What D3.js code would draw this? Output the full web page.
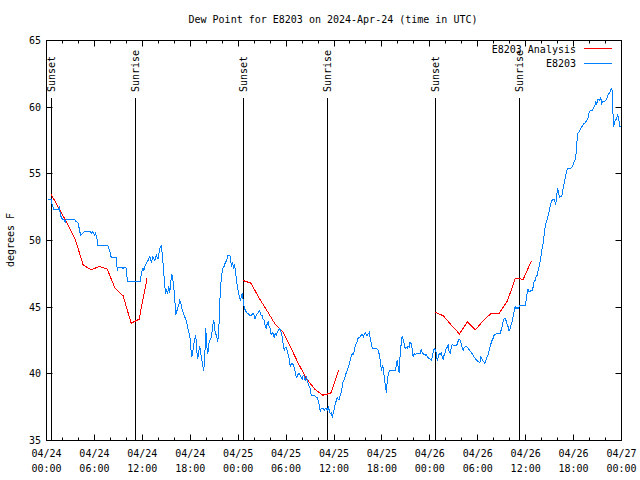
<!DOCTYPE html>
<html><head><meta charset="utf-8">
<script src="https://cdn.jsdelivr.net/npm/d3@7"></script>
<style>
body{margin:0;background:#fff}
svg{display:block}
text{font-family:"DejaVu Sans Mono","Liberation Mono",monospace;font-size:10px;fill:#000}
</style>
</head><body>
<svg id="chart" width="640" height="480"></svg>
<script>
// ---- data (hours since 2024-04-24 00:00 UTC, degrees F) ----
const obsHours = [0.16,0.59,0.66,0.92,1.51,1.63,1.72,2.04,2.17,2.35,2.47,3.51,3.73,3.93,4.10,4.26,4.55,4.77,5.39,5.61,5.81,6.02,6.15,6.36,6.44,7.69,7.90,8.12,8.74,8.87,8.94,9.37,9.57,9.78,10.0,10.12,10.20,11.75,11.88,12.08,12.21,12.29,12.51,12.71,12.92,13.13,13.33,13.55,13.76,13.96,14.17,14.39,14.51,14.68,14.80,14.93,15.05,15.18,15.30,15.43,15.55,15.68,15.81,15.93,16.06,16.18,16.31,16.43,16.56,16.68,16.81,16.97,17.22,17.44,17.65,17.81,
17.94,18.06,18.19,18.31,18.44,18.56,18.69,18.81,18.94,19.07,19.19,19.32,19.44,19.57,19.69,19.82,19.94,20.07,20.20,20.32,20.45,20.57,20.70,20.82,20.95,21.07,21.20,21.32,21.45,21.58,21.70,21.83,21.95,22.08,22.20,22.33,22.45,22.58,22.70,22.96,23.04,23.17,23.29,23.42,23.54,23.67,23.80,23.92,24.05,24.17,24.30,24.42,24.55,24.67,24.80,24.92,25.05,25.25,25.46,25.68,25.88,26.00,26.13,26.25,26.38,26.50,26.63,26.76,26.88,27.01,27.13,27.26,27.38,27.51,27.63,27.76,27.88,28.01,28.14,28.26,28.39,28.51,28.64,28.76,28.89,29.01,29.14,29.26,29.39,29.52,29.64,29.77,29.89,30.02,30.14,30.27,30.39,30.52,30.64,30.77,30.90,31.02,31.15,31.27,31.40,31.52,31.65,31.77,31.90,32.02,32.15,32.27,32.40,32.53,32.65,32.78,32.90,33.03,33.15,33.53,33.78,33.91,34.03,34.16,34.28,34.41,34.66,34.78,34.91,35.04,35.16,35.29,35.41,35.54,35.66,35.79,35.91,36.04,36.16,36.29,36.41,36.54,
36.67,36.79,36.92,37.04,37.17,37.29,37.42,37.55,37.67,37.80,37.92,38.05,38.17,38.30,38.42,38.55,38.67,38.80,38.92,39.05,39.17,39.30,39.43,39.55,39.68,39.80,39.93,40.05,40.18,40.30,40.43,40.55,40.68,40.80,41.36,41.56,41.68,41.81,41.93,42.06,42.19,42.31,42.44,42.56,42.69,42.81,42.94,43.65,43.78,43.90,44.03,44.15,44.28,44.41,44.53,44.66,44.78,44.91,45.03,45.16,45.28,45.41,45.53,45.66,45.79,45.91,46.04,46.16,46.29,46.54,46.79,46.91,47.04,47.17,47.42,47.54,47.67,47.79,48.04,48.17,48.29,48.42,48.54,48.67,48.80,48.92,49.05,49.17,49.30,49.43,49.55,49.68,49.80,49.93,50.05,50.18,50.30,50.43,50.56,50.68,50.81,51.18,51.43,51.56,51.68,51.81,51.93,52.06,52.19,52.31,52.56,52.81,53.06,53.31,53.56,53.81,54.06,
54.27,54.39,54.52,54.64,54.77,54.89,55.02,55.14,55.27,55.39,55.52,55.65,55.78,55.90,56.03,56.15,56.28,56.78,56.91,57.03,57.16,57.28,57.41,57.54,57.66,57.79,57.91,58.04,58.17,58.29,58.42,58.54,58.67,58.80,58.92,59.05,59.17,59.30,59.92,60.05,60.17,60.30,60.42,60.68,60.80,60.93,61.05,61.18,61.30,61.43,61.55,61.68,
61.75,61.88,62.00,62.13,62.26,62.38,62.51,62.63,62.76,62.88,63.01,63.13,63.26,63.38,63.51,63.64,63.76,63.89,64.01,64.14,64.26,64.51,64.64,64.76,64.89,65.01,65.14,65.26,65.60,65.73,65.85,65.98,66.10,66.23,66.36,66.44,66.52,66.64,66.77,66.89,67.02,67.14,67.27,67.40,67.52,67.65,67.77,67.90,68.02,68.28,68.40,68.53,68.65,68.78,68.90,69.03,69.15,69.28,69.41,69.53,69.66,69.91,70.03,70.16,70.28,70.41,70.53,70.66,70.79,70.87,70.95,71.03,71.12,71.24,71.37,71.49,71.62,71.75,71.83];
const obsValues = [53.05,53.05,52.8,52.3,52.3,52.6,51.9,51.55,51.6,51.4,51.6,51.6,51.4,51.35,50.9,50.4,50.55,50.7,50.7,50.55,50.65,50.4,50.55,50.0,49.6,49.6,49.25,48.7,48.7,47.75,48.0,48.0,47.9,48.0,47.9,47.0,46.9,46.9,47.6,47.9,47.75,48.0,48.3,48.5,48.8,48.4,48.8,48.5,48.9,48.6,49.4,49.6,48.9,47.6,46.6,46.0,46.35,46.0,46.6,46.05,46.85,47.5,47.1,46.6,45.6,44.4,44.65,45.0,45.1,45.5,45.3,44.85,44.4,44.1,43.6,43.1,
42.9,42.0,41.25,41.6,42.25,42.6,42.9,41.75,41.1,41.75,42.05,41.5,41.1,40.6,40.25,41.25,43.4,42.1,41.5,42.25,42.5,42.6,43.0,43.6,44.05,43.25,43.0,42.75,42.4,43.4,45.4,46.75,47.5,47.9,48.0,48.25,48.4,48.55,48.9,48.9,48.5,48.1,48.3,48.0,48.25,47.6,47.0,46.5,46.0,45.75,45.5,45.9,46.0,45.25,44.9,44.75,44.6,44.5,44.4,44.4,44.55,44.4,44.1,44.4,44.5,44.6,44.75,44.6,44.4,44.4,44.1,44.0,43.6,43.45,43.75,43.9,43.5,43.4,42.9,43.1,43.0,42.75,43.0,42.9,43.1,43.25,43.4,43.3,43.1,42.75,42.25,41.75,42.0,42.0,41.75,41.4,41.1,40.5,40.75,40.75,40.7,40.5,40.1,39.75,39.8,40.0,40.05,39.9,39.75,39.6,39.9,39.8,39.5,39.75,39.6,39.25,39.0,38.9,38.4,38.4,38.25,38.25,38.0,37.6,37.2,37.4,37.4,37.25,37.4,37.4,37.25,37.5,37.25,37.0,37.05,36.8,37.1,37.4,37.75,38.0,38.2,38.05,
38.1,38.4,38.6,39.1,39.5,39.55,39.9,40.1,40.25,40.5,40.75,41.05,41.4,41.5,41.45,41.75,42.1,42.3,42.45,42.75,42.7,42.8,42.9,42.95,42.8,43.0,43.1,42.9,42.9,43.0,43.1,42.55,42.25,41.9,41.9,41.75,41.4,40.9,40.25,40.6,40.4,39.6,39.1,38.6,39.6,40.0,40.25,40.25,40.55,41.0,40.5,40.1,41.4,42.25,42.8,42.6,42.25,41.9,42.0,41.9,42.1,42.0,42.4,42.25,41.9,41.25,41.5,41.4,41.5,41.5,41.55,41.8,41.6,41.5,41.4,41.45,41.3,41.2,41.1,41.0,41.2,41.6,41.9,41.8,41.6,41.0,41.25,41.5,41.45,41.55,41.25,41.1,41.45,41.6,41.9,42.0,42.2,41.6,41.55,42.0,42.2,42.1,42.2,42.5,42.6,42.5,42.25,41.9,41.8,42.0,42.05,41.9,41.7,41.5,41.25,41.05,40.9,
40.875,41.25,41.125,41.0,40.875,40.8,41.0,41.25,41.375,41.625,42.0,42.25,42.5,42.625,42.875,42.95,43.0,43.0,43.25,43.5,43.875,44.125,44.2,44.0,43.75,43.55,43.25,43.375,43.7,43.875,44.25,44.625,45.05,44.875,45.0,44.875,45.0,45.125,45.125,45.5,46.0,46.375,46.125,46.25,46.25,46.5,46.875,47.0,47.25,47.375,47.75,48.0,
48.25,48.6,49.25,49.6,50.1,50.75,51.25,51.4,51.75,52.0,52.4,52.75,53.0,53.05,53.1,53.0,52.7,53.4,53.9,53.5,53.25,53.3,53.75,54.1,54.5,54.9,55.25,55.4,55.4,55.45,55.6,55.75,56.0,56.1,56.75,57.6,58.05,58.1,58.25,58.4,58.55,58.6,58.75,58.8,58.9,59.0,59.1,59.5,59.7,59.75,59.8,60.0,60.1,60.4,60.25,60.6,60.6,60.5,60.75,60.25,60.4,60.45,60.5,60.6,60.9,61.0,61.1,61.3,61.4,60.9,59.25,58.5,58.9,59.05,59.1,59.4,59.25,58.75,58.5];

const anaHours1  = [0.6,1.6,2.6,3.6,4.6,5.6,6.6,7.6,8.6,9.6,10.6,11.6,12.6];
const anaValues1 = [53.45,52.35,51.3,50.1,48.15,47.8,48.05,47.85,46.4,45.85,43.8,44.1,47.2];
const anaHours2  = [24.6,25.6,26.6,27.6,28.6,29.6,30.6,31.6,32.6,33.6,34.6,35.6,36.6];
const anaValues2 = [47.0,46.8,45.7,44.75,43.75,43.15,41.95,40.7,39.6,38.85,38.4,38.55,40.3];
const anaHours3  = [48.7,49.7,50.7,51.7,52.7,53.7,54.7,55.7,56.7,57.7,58.7,59.7,60.7];
const anaValues3 = [44.6,44.35,43.65,43.0,43.9,43.3,44.0,44.55,44.55,45.45,47.15,47.1,48.45];

const sunHours  = [0.66,11.16,24.62,35.16,48.71,59.24];
const sunLabels = ["Sunset","Sunrise","Sunset","Sunrise","Sunset","Sunrise"];

const xMajorHours = [0,6,12,18,24,30,36,42,48,54,60,66,72];
const xTickDates  = ["04/24","04/24","04/24","04/24","04/25","04/25","04/25","04/25","04/26","04/26","04/26","04/26","04/27"];
const xTickTimes  = ["00:00","06:00","12:00","18:00","00:00","06:00","12:00","18:00","00:00","06:00","12:00","18:00","00:00"];
const yTicks = [35,40,45,50,55,60,65];

const titleText = "Dew Point for E8203 on 2024-Apr-24 (time in UTC)";
const yLabelText = "degrees F";
const seriesNames = ["E8203 Analysis","E8203"];
const seriesColors = ["#ff0000","#0080ff"];

// ---- drawing ----
const svg = d3.select("#chart");
const L = 46.5, R = 621.5, T = 40.5, B = 440.5;
const x = d3.scaleLinear().domain([0,72]).range([L,R]);
const y = d3.scaleLinear().domain([35,65]).range([B,T]);

svg.append("rect").attr("width",640).attr("height",480).attr("fill","#fff");

svg.append("text").attr("x",333).attr("y",19).attr("text-anchor","middle")
  .attr("dominant-baseline","central").text(titleText);

svg.append("text").attr("transform","translate(10,240) rotate(-90)")
  .attr("text-anchor","middle").attr("dominant-baseline","central").text(yLabelText);

const g = svg.append("g");

yTicks.forEach(v=>{
  const yy = Math.round(y(v)-0.5)+0.5;
  g.append("line").attr("x1",L).attr("x2",L+6).attr("y1",yy).attr("y2",yy).attr("stroke","#000");
  g.append("line").attr("x1",R-6).attr("x2",R).attr("y1",yy).attr("y2",yy).attr("stroke","#000");
  g.append("text").attr("x",41).attr("y",y(v)).attr("text-anchor","end")
    .attr("dominant-baseline","central").text(v);
});

d3.range(0,73,2).forEach(h=>{
  const xx = Math.round(x(h)-0.5)+0.5;
  const len = (h%6===0)?6:3;
  g.append("line").attr("x1",xx).attr("x2",xx).attr("y1",B).attr("y2",B-len).attr("stroke","#000");
  g.append("line").attr("x1",xx).attr("x2",xx).attr("y1",T).attr("y2",T+len).attr("stroke","#000");
});
xMajorHours.forEach((h,i)=>{
  g.append("text").attr("x",x(h)).attr("y",453).attr("text-anchor","middle")
    .attr("dominant-baseline","central").text(xTickDates[i]);
  g.append("text").attr("x",x(h)).attr("y",468).attr("text-anchor","middle")
    .attr("dominant-baseline","central").text(xTickTimes[i]);
});

sunHours.forEach((h,i)=>{
  const xx = Math.round(x(h)-0.5)+0.5;
  g.append("line").attr("x1",xx).attr("x2",xx).attr("y1",98).attr("y2",B).attr("stroke","#000");
  g.append("text").attr("transform",`translate(${xx},92) rotate(-90)`)
    .attr("text-anchor","start").attr("dominant-baseline","central").text(sunLabels[i]);
});

const line = d3.line().x(d=>x(d[0])).y(d=>y(d[1]));

[[anaHours1,anaValues1],[anaHours2,anaValues2],[anaHours3,anaValues3]].forEach(([hs,vs])=>{
  g.append("path").attr("d",line(hs.map((h,i)=>[h,vs[i]])))
    .attr("fill","none").attr("stroke",seriesColors[0]).attr("stroke-width",1)
    .attr("shape-rendering","crispEdges");
});

g.append("path").attr("d",line(obsHours.map((h,i)=>[h,obsValues[i]])))
  .attr("fill","none").attr("stroke",seriesColors[1]).attr("stroke-width",1)
  .attr("shape-rendering","crispEdges");

g.append("rect").attr("x",L).attr("y",T).attr("width",R-L).attr("height",B-T)
  .attr("fill","none").attr("stroke","#000").attr("shape-rendering","crispEdges");

seriesNames.forEach((n,i)=>{
  const ly = 49 + i*14.5;
  svg.append("text").attr("x",576).attr("y",ly).attr("text-anchor","end")
    .attr("dominant-baseline","central").text(n);
  svg.append("line").attr("x1",584).attr("x2",612).attr("y1",Math.round(ly)-0.5).attr("y2",Math.round(ly)-0.5)
    .attr("stroke",seriesColors[i]).attr("shape-rendering","crispEdges");
});
</script>
</body></html>
